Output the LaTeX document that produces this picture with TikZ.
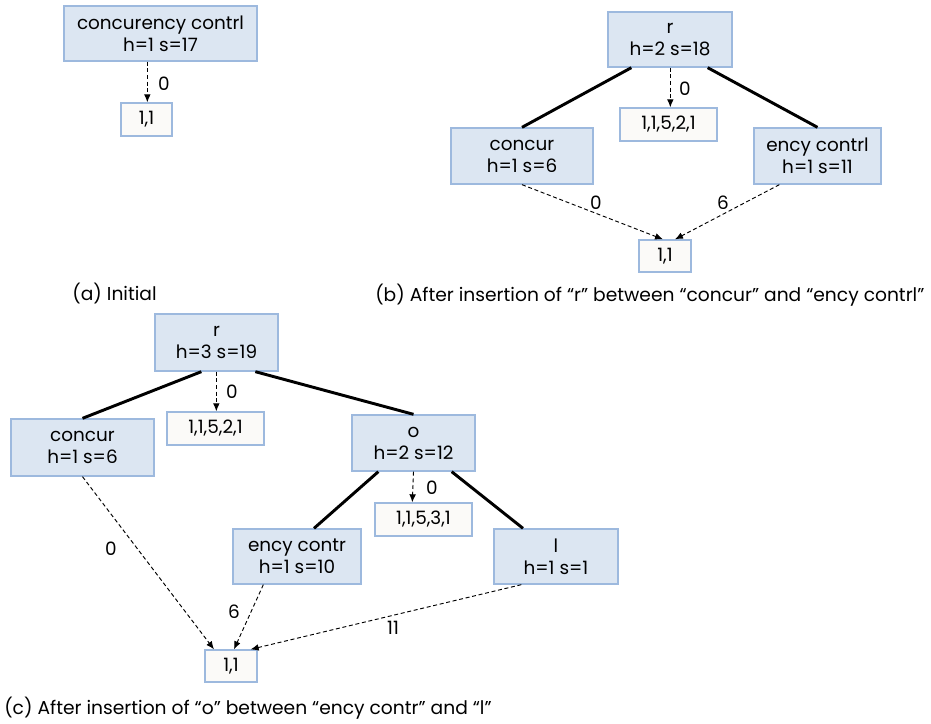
\documentclass[tikz,border=0pt]{standalone}
\usepackage{fontspec}
\setmainfont{Poppins}
\usetikzlibrary{arrows.meta,calc}
\definecolor{boxfill}{HTML}{DCE6F2}
\definecolor{boxline}{HTML}{9DB9DE}
\definecolor{smallfill}{HTML}{FBFAF8}
\tikzset{
  bw/.style={minimum width=#1*0.75pt},
  bh/.style={minimum height=#1*0.75pt},
  bigbox/.style={draw=boxline, fill=boxfill, line width=1pt, inner sep=0pt, align=center, font=\fontsize{13.8}{16.5}\selectfont},
  smallbox/.style={draw=boxline, fill=smallfill, line width=1pt, inner sep=0pt, align=center, font=\fontsize{13.8}{16.5}\selectfont},
  tree/.style={line width=2.2pt},
  ptr/.style={dashed, dash pattern=on 3pt off 2pt, line width=0.7pt, -{Latex[length=6pt,width=5pt]}},
  lbl/.style={font=\fontsize{13.8}{16.5}\selectfont, inner sep=0pt},
  captxt/.style={font=\fontsize{14}{17}\selectfont, inner sep=0pt}
}
\begin{document}
\begin{tikzpicture}[x=0.75pt,y=-0.75pt]
\useasboundingbox (0,0) rectangle (931,724);
% (a)
\node[bigbox,bw=193,bh=55] (a1) at (160.5,33.5) {concurency contrl\\h=1 s=17};
\node[smallbox,bw=51,bh=33] (a2) at (146.5,119.5) {1,1};
\draw[ptr] ($(a1.south west)+(84,0)$) -- ($(a2.north west)+(27,0)$);
\node[lbl] (la) at (164,84) {0};
\node[captxt] (capa) at (114.5,294) {(a) Initial};
% (b)
\node[bigbox,bw=124,bh=55] (b1) at (670,39.5) {r\\h=2 s=18};
\node[smallbox,bw=97,bh=33] (b2) at (668.5,124.5) {1,1,5,2,1};
\node[bigbox,bw=142,bh=56] (b3) at (522,156) {concur\\h=1 s=6};
\node[bigbox,bw=127,bh=56] (b4) at (817.5,156) {ency contrl\\h=1 s=11};
\node[smallbox,bw=52,bh=32] (b5) at (665,256) {1,1};
\draw[tree] ($(b1.south west)+(24,0)$) -- (b3.north);
\draw[tree] ($(b1.south east)+(-25,0)$) -- (b4.north);
\draw[ptr] ($(b1.south west)+(63,0)$) -- ($(b2.north west)+(51,0)$);
\node[lbl] (lb1) at (685,89) {0};
\draw[ptr] (b3.south) -- ($(b5.north)+(-2,0)$);
\node[lbl] (lb2) at (596,203) {0};
\draw[ptr] ($(b4.south west)+(26,0)$) -- ($(b5.north)+(10,0)$);
\node[lbl] (lb3) at (723,203) {6};
\node[captxt,anchor=west] (capb) at (375,295) {(b) After insertion of “r” between “concur” and “ency contrl”};
% (c)
\node[bigbox,bw=123,bh=57] (c1) at (216.5,342.5) {r\\h=3 s=19};
\node[smallbox,bw=97,bh=33] (c2) at (215.5,428.5) {1,1,5,2,1};
\node[bigbox,bw=143,bh=57] (c3) at (82.5,447.5) {concur\\h=1 s=6};
\node[bigbox,bw=123,bh=56] (c4) at (413.5,443) {o\\h=2 s=12};
\node[smallbox,bw=97,bh=33] (c5) at (423.5,519.5) {1,1,5,3,1};
\node[bigbox,bw=128,bh=55] (c6) at (297,556.5) {ency contr\\h=1 s=10};
\node[bigbox,bw=124,bh=55] (c7) at (556,556.5) {l\\h=1 s=1};
\node[smallbox,bw=52,bh=32] (c8) at (231,666) {1,1};
\draw[tree] ($(c1.south west)+(47,0)$) -- (c3.north);
\draw[tree] ($(c1.south west)+(101,0)$) -- (c4.north);
\draw[ptr] ($(c1.south west)+(62,0)$) -- ($(c2.north west)+(50,0)$);
\node[lbl] (lc1) at (232,392) {0};
\draw[tree] ($(c4.south west)+(27,0)$) -- ($(c6.north)+(17,0)$);
\draw[tree] ($(c4.south east)+(-24,0)$) -- ($(c7.north)+(-33,0)$);
\draw[ptr] (c4.south) -- ($(c5.north west)+(38,0)$);
\node[lbl] (lc2) at (432,488) {0};
\draw[ptr] (c3.south) -- ($(c8.north)+(-17,0)$);
\node[lbl] (lc3) at (111,549) {0};
\draw[ptr] ($(c6.south west)+(31,0)$) -- ($(c8.north)+(3,0)$);
\node[lbl] (lc4) at (234,612) {6};
\draw[ptr] ($(c7.south west)+(28,0)$) -- ($(c8.north east)+(-7,0)$);
\node[lbl] (lc5) at (393,628) {11};
\node[captxt,anchor=west] (capc) at (4,708) {(c) After insertion of “o” between “ency contr” and “l”};
\end{tikzpicture}
\end{document}
